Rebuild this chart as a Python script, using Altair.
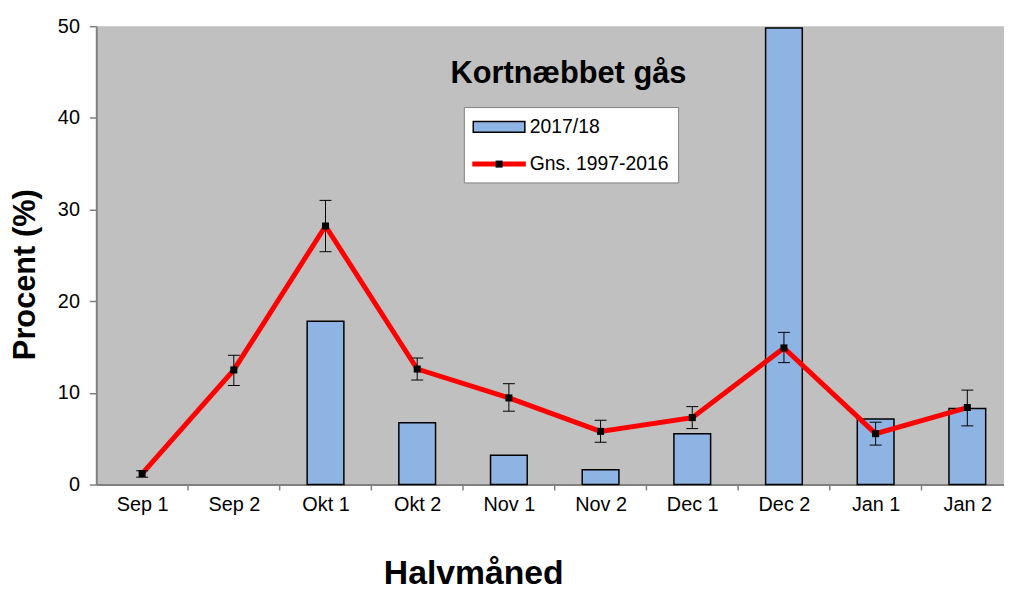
import altair as alt
import pandas as pd

categories = ["Sep 1", "Sep 2", "Okt 1", "Okt 2", "Nov 1", "Nov 2", "Dec 1", "Dec 2", "Jan 1", "Jan 2"]
season_2017 = [None, None, 17.8, 6.75, 3.2, 1.6, 5.55, 49.8, 7.15, 8.3]
avg_1997_2016 = [1.2, 12.5, 28.2, 12.6, 9.45, 5.8, 7.3, 14.9, 5.55, 8.4]
err_low = [0.8, 10.8, 25.4, 11.4, 8.0, 4.6, 6.1, 13.3, 4.3, 6.4]
err_high = [1.5, 14.1, 31.0, 13.8, 11.0, 7.0, 8.5, 16.6, 6.8, 10.3]

n = len(categories)
df = pd.DataFrame({
    "idx": list(range(n)),
    "cat": categories,
    "bar": season_2017,
    "avg": avg_1997_2016,
    "lo": err_low,
    "hi": err_high,
})
bounds = pd.DataFrame({"b": [i + 0.5 for i in range(n - 1)]})

GRAY = "#C0C0C0"
BLUE = "#8EB4E3"
AXIS = "#808080"
FONT = "Liberation Sans"

label_array = "[" + ",".join("'" + c + "'" for c in categories) + "]"

x_scale = alt.Scale(domainMin=-0.5, domainMax=n - 0.6, nice=False, zero=False, padding=0)
x_axis = alt.Axis(
    title="Halvmåned",
    values=list(range(n)),
    labelExpr=label_array + "[datum.value]",
    labelAngle=0,
    labelFontSize=20,
    labelColor="black",
    labelPadding=10,
    tickSize=0,
    grid=False,
    labelFlush=False,
    labelOverlap=False,
    domainColor=AXIS,
    domainWidth=2,
    titleFontSize=34,
    titleFontWeight="bold",
    titleColor="black",
    titleX=380,
    titleY=100,
    titleAlign="center",
    titleBaseline="alphabetic",
)
y_scale = alt.Scale(domain=[0, 50], nice=False)
y_axis = alt.Axis(
    title="Procent (%)",
    values=[0, 10, 20, 30, 40, 50],
    labelFontSize=20,
    labelColor="black",
    labelPadding=10,
    tickSize=7,
    tickColor=AXIS,
    tickWidth=1.5,
    domainColor=AXIS,
    domainWidth=2,
    grid=False,
    titleFontSize=31,
    titleFontWeight="bold",
    titleColor="black",
    titleAngle=-90,
    titleX=-62,
    titleY=250,
    titleAlign="center",
    titleBaseline="alphabetic",
)

base = alt.Chart(df)
X = alt.X("idx:Q", scale=x_scale, axis=x_axis)

bars = base.mark_bar(size=37, fill=BLUE, stroke="black", strokeWidth=1.5).encode(
    x=X,
    y=alt.Y("bar:Q", scale=y_scale, axis=y_axis),
)

xticks = alt.Chart(bounds).mark_rule(color=AXIS, strokeWidth=1.5).encode(
    x=alt.X("b:Q"),
    y=alt.value(462),
    y2=alt.value(468),
)

line = base.mark_line(color="#FF0000", strokeWidth=5).encode(
    x=alt.X("idx:Q"),
    y=alt.Y("avg:Q"),
)

err_rule = base.mark_rule(color="#000000", strokeWidth=1).encode(
    x=alt.X("idx:Q"),
    y=alt.Y("lo:Q"),
    y2="hi:Q",
)
cap_lo = base.mark_tick(color="#000000", size=12, thickness=1, opacity=1, orient="horizontal").encode(
    x=alt.X("idx:Q"),
    y=alt.Y("lo:Q"),
)
cap_hi = base.mark_tick(color="#000000", size=12, thickness=1, opacity=1, orient="horizontal").encode(
    x=alt.X("idx:Q"),
    y=alt.Y("hi:Q"),
)

markers = base.mark_square(size=50, color="black", opacity=1).encode(
    x=alt.X("idx:Q"),
    y=alt.Y("avg:Q"),
)

one = pd.DataFrame({"k": [0]})

title = alt.Chart(one).mark_text(
    text="Kortnæbbet gås", fontSize=31, fontWeight="bold", align="center",
    baseline="alphabetic", color="black", font=FONT,
).encode(x=alt.value(476), y=alt.value(57))

legend_box = alt.Chart(one).mark_rect(fill="white", stroke=AXIS, strokeWidth=1).encode(
    x=alt.value(371), x2=alt.value(587), y=alt.value(82), y2=alt.value(158)
)
legend_bar = alt.Chart(one).mark_rect(fill=BLUE, stroke="black", strokeWidth=1.5).encode(
    x=alt.value(380), x2=alt.value(432), y=alt.value(96), y2=alt.value(107)
)
legend_bar_txt = alt.Chart(one).mark_text(
    text="2017/18", fontSize=19.5, align="left", baseline="middle", color="black", font=FONT
).encode(x=alt.value(437), y=alt.value(102))
legend_line = alt.Chart(one).mark_rule(color="#FF0000", strokeWidth=5).encode(
    x=alt.value(379), x2=alt.value(433), y=alt.value(139)
)
legend_marker = alt.Chart(one).mark_square(size=50, color="black", opacity=1).encode(
    x=alt.value(406), y=alt.value(139)
)
legend_line_txt = alt.Chart(one).mark_text(
    text="Gns. 1997-2016", fontSize=19.5, align="left", baseline="middle", color="black", font=FONT
).encode(x=alt.value(437), y=alt.value(139))

chart = alt.layer(
    bars, xticks, line, err_rule, cap_lo, cap_hi, markers,
    title, legend_box, legend_bar, legend_bar_txt, legend_line, legend_marker, legend_line_txt,
).properties(
    width=915,
    height=462,
    autosize=alt.AutoSizeParams(type="none"),
    padding={"left": 89, "top": 16, "right": 0, "bottom": 107},
).configure(
    font=FONT,
    background="white",
).configure_view(
    fill=GRAY,
    stroke=None,
)

chart.save("out.html", embed_options={"renderer": "svg", "actions": False})
